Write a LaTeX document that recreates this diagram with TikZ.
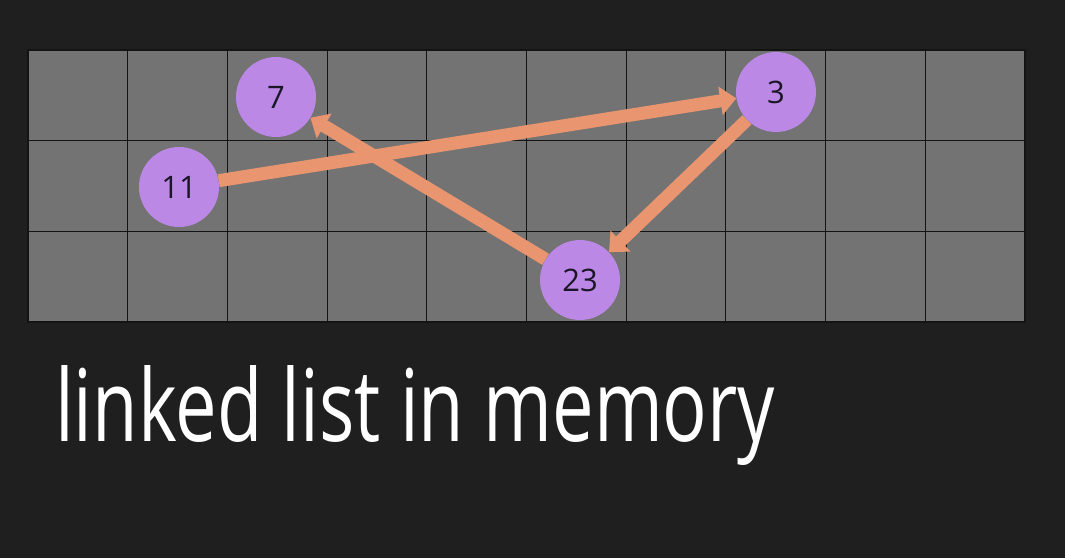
\documentclass[tikz,border=0pt]{standalone}
\usepackage{fontspec}
\setmainfont{Open Sans}
\usetikzlibrary{arrows.meta}
\definecolor{bg}{HTML}{1F1F1F}
\definecolor{cell}{HTML}{737373}
\definecolor{gridline}{HTML}{141414}
\definecolor{nodefill}{HTML}{BB88E6}
\definecolor{nodetext}{HTML}{1A1626}
\definecolor{link}{HTML}{E9956F}
\tikzset{
  listnode/.style={circle, fill=nodefill, minimum size=80pt, inner sep=0pt,
    text=nodetext, font=\fontsize{31}{33}\selectfont},
  linkarrow/.style={draw=link, line width=13pt,
    -{Triangle[width=28pt,length=16pt]}, shorten >=0pt, shorten <=0pt}
}
\begin{document}
\begin{tikzpicture}[x=1pt,y=-1pt]
\fill[bg] (0,0) rectangle (1065,558);
\useasboundingbox (0,0) rectangle (1065,558);
% grid
\fill[cell] (28,50) rectangle (1025,322);
\foreach \i in {1,...,9} {
  \draw[gridline, line width=1.1pt] ({28+\i*99.7},50) -- ({28+\i*99.7},322);
}
\foreach \j in {1,2} {
  \draw[gridline, line width=1.1pt] (28,{50+\j*90.67}) -- (1025,{50+\j*90.67});
}
\draw[gridline, line width=1.1pt] (28,50) rectangle (1025,322);
% nodes
\node[listnode] (n7) at (276,97) {7};
\node[listnode] (n3) at (776,92) {3};
\node[listnode] (n11) at (179,187) {11};
\node[listnode] (n23) at (580,280) {23};
% links
\draw[linkarrow] (n11) -- (n3);
\draw[linkarrow] (n3) -- (n23);
\draw[linkarrow] (n23) -- (n7);
% caption
\node[anchor=north west, inner sep=0pt, text=white] (caption) at (55,365)
  {\resizebox*{720pt}{100pt}{\fontsize{40}{44}\selectfont linked list in memory}};
\end{tikzpicture}
\end{document}
